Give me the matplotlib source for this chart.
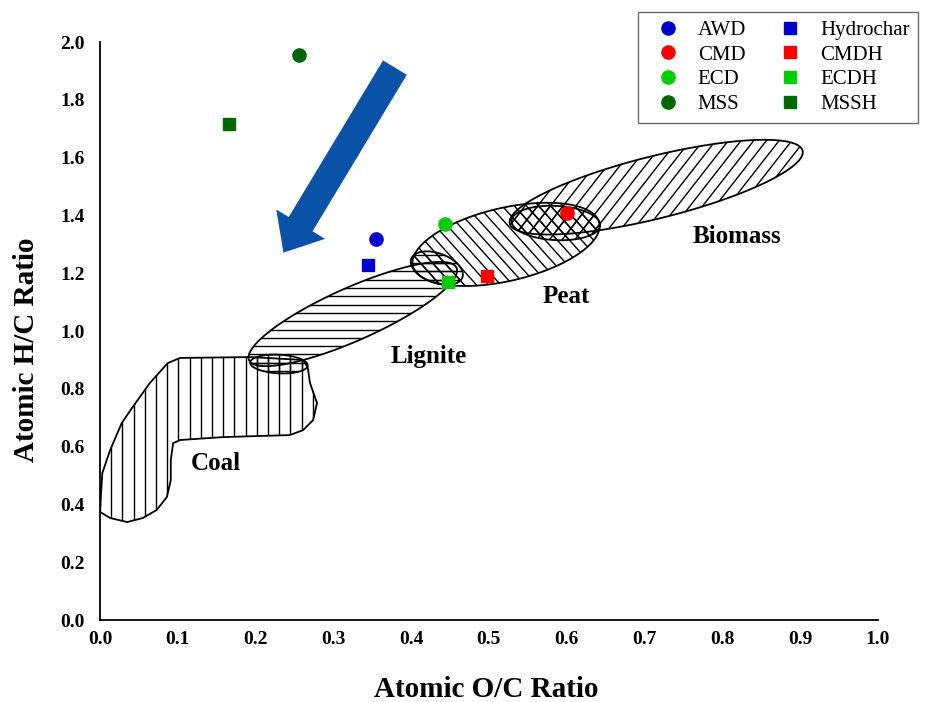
import numpy as np
import matplotlib.pyplot as plt
from matplotlib.patches import Polygon, FancyArrowPatch
from matplotlib.collections import LineCollection
from matplotlib.lines import Line2D

plt.rcParams['font.family'] = ['Liberation Serif', 'DejaVu Serif']

# measured samples (atomic O/C, atomic H/C)
names = ['AWD', 'CMD', 'ECD', 'MSS', 'Hydrochar', 'CMDH', 'ECDH', 'MSSH']
oc = [0.355, 0.600, 0.443, 0.256, 0.344, 0.497, 0.447, 0.166]
hc = [1.32, 1.41, 1.37, 1.955, 1.23, 1.19, 1.17, 1.715]
colors = ['#0000cc', '#ff0000', '#00cc00', '#006600',
          '#0000cc', '#ff0000', '#00cc00', '#006600']
markers = ['o', 'o', 'o', 'o', 's', 's', 's', 's']

# coal outline (O/C, H/C)
coal_oc = [0.000, 0.003, 0.013, 0.028, 0.042, 0.064, 0.087, 0.103, 0.193, 0.261,
           0.267, 0.270, 0.279, 0.274, 0.261, 0.244, 0.158, 0.103, 0.094, 0.091,
           0.091, 0.086, 0.073, 0.055, 0.035, 0.013, 0.000]
coal_hc = [0.381, 0.509, 0.588, 0.682, 0.737, 0.820, 0.889, 0.907, 0.910, 0.900,
           0.875, 0.820, 0.751, 0.692, 0.657, 0.640, 0.633, 0.623, 0.612, 0.554,
           0.484, 0.426, 0.381, 0.353, 0.339, 0.353, 0.374]

# elliptical regions: centre O/C, centre H/C, semi-axes (O/C units), tilt (deg)
lignite = (0.325, 1.059, 0.146, 0.034, 24)
peat = (0.522, 1.300, 0.123, 0.047, 13)
biomass = (0.715, 1.498, 0.194, 0.040, 14)
coal_lignite = (0.230, 0.886, 0.037, 0.012, -3)
lignite_peat = (0.433, 1.218, 0.035, 0.019, -20)
peat_biomass = (0.586, 1.374, 0.057, 0.022, -3)

region_labels = ['Coal', 'Lignite', 'Peat', 'Biomass']
label_oc = [0.149, 0.422, 0.599, 0.819]
label_hc = [0.543, 0.913, 1.118, 1.329]

arrow_start = (0.381, 1.920)
arrow_end = (0.234, 1.263)

W, H = 926, 702
fig = plt.figure(figsize=(W / 100, H / 100), dpi=100)
pos = [0.108, 0.1168, 0.840, 0.8232]
ax = fig.add_axes(pos)
ax.set_xlim(0, 1.0)
ax.set_ylim(0, 2.0)

# pixels per data unit, used to keep shapes and hatching undistorted
sx = W * pos[2] / 1.0
sy = H * pos[3] / 2.0


def ellipse(c_oc, c_hc, a, b, ang, n=200):
    t = np.linspace(0, 2 * np.pi, n)
    u = a * sx * np.cos(t)
    v = b * sx * np.sin(t)
    r = np.radians(ang)
    px = u * np.cos(r) - v * np.sin(r)
    py = u * np.sin(r) + v * np.cos(r)
    return np.column_stack([c_oc + px / sx, c_hc + py / sy])


def hatch(patch, angle, spacing):
    verts = patch.get_xy()
    px = verts[:, 0] * sx
    py = verts[:, 1] * sy
    cx, cy = px.mean(), py.mean()
    R = np.hypot(px - cx, py - cy).max() + spacing
    r = np.radians(angle)
    d = np.array([np.cos(r), np.sin(r)])
    nrm = np.array([-np.sin(r), np.cos(r)])
    off0 = cx * nrm[0] + cy * nrm[1]
    k0 = np.floor((off0 - R) / spacing)
    k1 = np.ceil((off0 + R) / spacing)
    segs = []
    for k in np.arange(k0, k1 + 1):
        base = nrm * k * spacing
        along = (cx - base[0]) * d[0] + (cy - base[1]) * d[1]
        p0 = base + d * (along - R)
        p1 = base + d * (along + R)
        segs.append([(p0[0] / sx, p0[1] / sy), (p1[0] / sx, p1[1] / sy)])
    lc = LineCollection(segs, colors='black', linewidths=1.0, zorder=2)
    ax.add_collection(lc)
    lc.set_clip_path(patch)


def region(xy, hatches):
    p = Polygon(xy, closed=True, fill=False, edgecolor='black', linewidth=1.3, zorder=3)
    ax.add_patch(p)
    for angle, spacing in hatches:
        hatch(p, angle, spacing)


region(np.column_stack([coal_oc, coal_hc]), [(90, 11.2)])
region(ellipse(*lignite), [(0, 8.3)])
region(ellipse(*peat), [(-48, 9.0)])
region(ellipse(*biomass), [(52, 10.0)])
region(ellipse(*coal_lignite), [(90, 11.2), (0, 8.3)])
region(ellipse(*lignite_peat), [(0, 8.3), (-48, 9.0)])
region(ellipse(*peat_biomass), [(-48, 9.0), (52, 10.0)])

for lab, x, y in zip(region_labels, label_oc, label_hc):
    ax.text(x, y, lab, ha='center', va='center', fontsize=18, fontweight='bold', zorder=4)

ax.add_patch(FancyArrowPatch(arrow_start, arrow_end,
                             arrowstyle='simple,head_width=41,head_length=24,tail_width=20',
                             mutation_scale=1, color='#0a52a8', linewidth=0, zorder=4))

handles = []
for n, x, y, c, m in zip(names, oc, hc, colors, markers):
    ms = 9.5 if m == 'o' else 8.5
    ax.plot([x], [y], linestyle='none', marker=m, color=c, markersize=ms, zorder=5)
    handles.append(Line2D([], [], linestyle='none', marker=m, color=c, markersize=ms, label=n))

leg = fig.legend(handles=handles, ncol=2, loc='upper right',
                 bbox_to_anchor=(918 / W, 1 - 12 / H), borderaxespad=0,
                 fancybox=False, edgecolor='#444444', fontsize=15,
                 handlelength=2.0, handletextpad=0.45, columnspacing=1.1,
                 labelspacing=0.25, borderpad=0.4)
leg.get_frame().set_linewidth(1.0)

ax.set_xticks(np.arange(0, 1.01, 0.1))
ax.set_yticks(np.arange(0, 2.01, 0.2))
ax.xaxis.set_major_formatter(plt.FormatStrFormatter('%.1f'))
ax.yaxis.set_major_formatter(plt.FormatStrFormatter('%.1f'))
ax.tick_params(length=0, labelsize=14)
ax.tick_params(axis='x', pad=8)
ax.tick_params(axis='y', pad=11)
for t in ax.get_xticklabels() + ax.get_yticklabels():
    t.set_fontweight('bold')
ax.spines['top'].set_visible(False)
ax.spines['right'].set_visible(False)
ax.spines['left'].set_linewidth(1.3)
ax.spines['bottom'].set_linewidth(1.3)

ax.set_xlabel('Atomic O/C Ratio', fontsize=21, fontweight='bold')
ax.set_ylabel('Atomic H/C Ratio', fontsize=21, fontweight='bold')
ax.xaxis.set_label_coords(0.497, -0.097)
ax.yaxis.set_label_coords(-0.077, 0.467)

fig.savefig('out.png', dpi=100)
